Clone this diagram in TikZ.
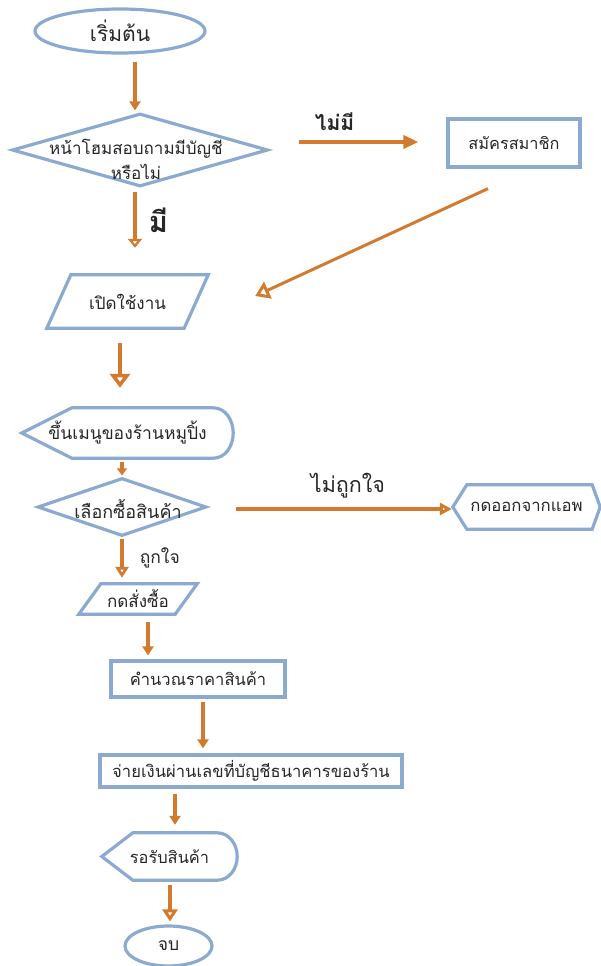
\documentclass[tikz,border=0pt]{standalone}
\usepackage{fontspec}
\newfontfamily\thai[Script=Thai]{Loma}
\usetikzlibrary{shapes.geometric,arrows.meta,calc}
\definecolor{bl}{RGB}{140,170,208}
\definecolor{orng}{RGB}{210,122,45}
\begin{document}
\begin{tikzpicture}[x=1pt,y=-1pt,
  txt/.style={font=\thai\fontsize{#1}{25}\selectfont, inner sep=0pt, align=center, text=black!85},
  txt/.default=16.5,
  blu/.style={draw=bl, line width=3.2pt, line join=miter},
  oline/.style={draw=orng, line width=3.6pt},
  lbl/.style={font=\thai\fontsize{#1}{25}\selectfont, inner sep=0pt, text=black!85},
  lblb/.style={font=\thai\bfseries\fontsize{#1}{25}\selectfont, inner sep=0pt, text=black!85}
]
\useasboundingbox (0,0) rectangle (601,966);

% nodes
\node[shape=ellipse, blu, txt=21, minimum width=170pt, minimum height=44pt] (start) at (120,31) {เริ่มต้น};
\node[shape=diamond, blu, inner sep=0pt, minimum width=256pt, minimum height=73pt] (q1) at (140,150) {};
\node[txt=17] (q1t) at (136,159) {หน้าโฮมสอบถามมีบัญชี\\หรือไม่};
\node[blu, txt=16.3, minimum width=132pt, minimum height=48pt] (reg) at (514,143) {สมัครสมาชิก};
\node[txt=17, minimum width=161pt, minimum height=53pt] (open) at (127.5,301.5) {เปิดใช้งาน};
\node[txt=17.5, minimum width=211pt, minimum height=50pt] (menu) at (127.5,433) {ขึ้นเมนูของร้านหมูปิ้ง};
\node[shape=diamond, blu, inner sep=0pt, minimum width=169pt, minimum height=58pt] (q2) at (122,507) {};
\node[txt=18] (q2t) at (128,509) {เลือกซื้อสินค้า};
\node[txt=16.7, minimum width=147pt, minimum height=44pt] (exit) at (526.5,507) {กดออกจากแอพ};
\node[txt=17, minimum width=118pt, minimum height=30pt] (order) at (138,599) {กดสั่งซื้อ};
\node[blu, txt=16.5, minimum width=174pt, minimum height=36pt] (calc) at (198,679) {คำนวณราคาสินค้า};
\node[blu, txt=16.6, minimum width=302pt, minimum height=32pt] (pay) at (251,771) {จ่ายเงินผ่านเลขที่บัญชีธนาคารของร้าน};
\node[txt=16.4, minimum width=135pt, minimum height=47pt] (wait) at (169.5,856.5) {รอรับสินค้า};
\node[shape=ellipse, blu, txt=17.5, minimum width=87pt, minimum height=40pt] (end) at (168.5,946) {จบ};

% outlines of custom shapes
\draw[blu] ($(open.north west)+(24,0)$) -- (open.north east) -- ($(open.south east)+(-24,0)$) -- (open.south west) -- cycle;
\draw[blu] (menu.west) -- ($(menu.north west)+(50,0)$) -- ($(menu.north east)+(-20,0)$) to[out=0,in=90] (menu.east) to[out=-90,in=0] ($(menu.south east)+(-20,0)$) -- ($(menu.south west)+(50,0)$) -- cycle;
\draw[blu] (exit.west) -- ($(exit.north west)+(14,0)$) -- ($(exit.north east)+(-8,0)$) -- (exit.east) -- ($(exit.south east)+(-8,0)$) -- ($(exit.south west)+(14,0)$) -- cycle;
\draw[blu] ($(order.north west)+(22,0)$) -- (order.north east) -- ($(order.south east)+(-22,0)$) -- (order.south west) -- cycle;
\draw[blu] (wait.west) -- ($(wait.north west)+(31,0)$) -- ($(wait.north east)+(-20,0)$) to[out=0,in=90] (wait.east) to[out=-90,in=0] ($(wait.south east)+(-20,0)$) -- ($(wait.south west)+(31,0)$) -- cycle;

% connectors
\draw[oline, -{Triangle[length=9pt,width=11pt]}] ($(start.south)+(15,7)$) -- ($(q1.north)+(-5,-1.5)$);
\draw[oline, -{Triangle[open,length=9pt,width=14pt]}] ($(q1.south)+(-5,4)$) -- ($(open.north)+(7.5,-27)$)
  node[midway, right=12pt, lblb=29] (ym) {มี};
\draw[oline, -{Triangle[length=15pt,width=13pt]}] ($(q1.east)+(29,-8)$) -- ($(reg.west)+(-28,-1)$)
  node[pos=0.3, above=10pt, lblb=21] (nm) {ไม่มี};
\draw[oline, line width=3pt, -{Triangle[open,length=14pt,width=18pt]}] ($(reg.south)+(-26,20)$) -- ($(open.east)+(47,-5.5)$);
\draw[oline, -{Triangle[open,length=14pt,width=20pt]}] ($(open.south)+(-7.5,15)$) -- ($(menu.north)+(-7.5,-20)$);
\draw[oline, -{Triangle[length=7pt,width=10pt]}] ($(menu.south)+(-5.5,4)$) -- ($(q2.north)+(0,-1)$);
\draw[oline, -{Triangle[open,length=12pt,width=12pt]}] ($(q2.east)+(27.5,2)$) -- ($(exit.west)+(-1,2)$)
  node[pos=0.52, above=9pt, lbl=21.5] (nl) {ไม่ถูกใจ};
\draw[oline, -{Triangle[open,length=11pt,width=13pt]}] ($(q2.south)+(0,1)$) -- ($(order.north)+(-16,-6)$)
  node[midway, right=16pt, lbl=17.5] (lk) {ถูกใจ};
\draw[oline, -{Triangle[length=9pt,width=11pt]}] ($(order.south)+(10,8)$) -- ($(calc.north)+(-50,-4)$);
\draw[oline, -{Triangle[length=9pt,width=11pt]}] ($(calc.south)+(5,3)$) -- ($(pay.north)+(-48,-5)$);
\draw[oline, -{Triangle[length=9pt,width=11pt]}] ($(pay.south)+(-76,5)$) -- ($(wait.north)+(5.5,-8)$);
\draw[oline, -{Triangle[open,length=12pt,width=15pt]}] ($(wait.south)+(0.5,5)$) -- ($(end.north)+(1.5,-3)$);
\end{tikzpicture}
\end{document}
